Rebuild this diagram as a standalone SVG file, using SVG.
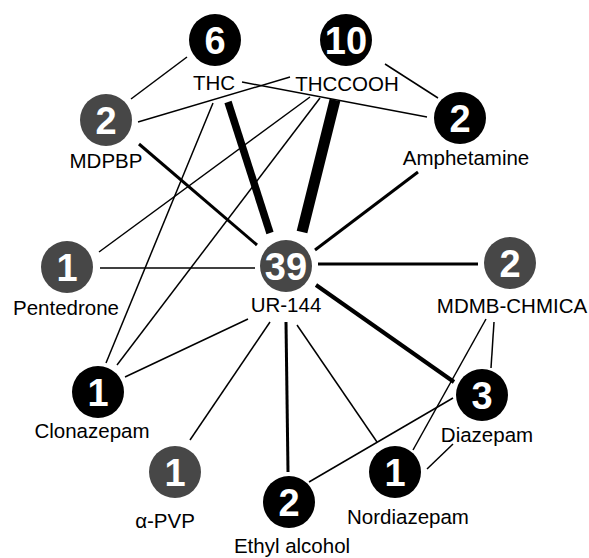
<svg xmlns="http://www.w3.org/2000/svg" width="589" height="558" viewBox="0 0 589 558">
<style>
.bg{fill:#fff}
.e1{stroke:#000;stroke-width:1.5;fill:none}
.e2{stroke:#000;stroke-width:3;fill:none}
.e3{stroke:#000;stroke-width:4;fill:none}
.blk{fill:#000}
.gry{fill:#474747}
.num{font-family:"Liberation Sans",Arial,sans-serif;font-weight:bold;font-size:38px;fill:#fff;text-anchor:middle}
.lbl{font-family:"Liberation Sans",Arial,sans-serif;font-size:20.5px;fill:#000;text-anchor:middle}
</style>
<rect class="bg" x="0" y="0" width="589" height="558"/>
<g id="connectors">
<line class="e1" x1="187" y1="57" x2="131" y2="99"/>
<line class="e1" x1="138" y1="122" x2="290" y2="77"/>
<line class="e1" x1="242" y1="82" x2="427" y2="117"/>
<line class="e1" x1="385" y1="64" x2="438" y2="98"/>
<line stroke="#000" stroke-width="7.5" x1="228" y1="102" x2="270" y2="233"/>
<line stroke="#000" stroke-width="11" x1="335" y1="100" x2="302" y2="232"/>
<line class="e2" x1="418" y1="172" x2="315" y2="250"/>
<line class="e2" x1="139" y1="144" x2="257" y2="245"/>
<line class="e1" x1="100" y1="268" x2="255" y2="268"/>
<line class="e2" x1="318" y1="264" x2="478" y2="264"/>
<line class="e3" x1="316" y1="285" x2="454" y2="382"/>
<line class="e1" x1="310" y1="97" x2="99" y2="252"/>
<line class="e1" x1="213" y1="103" x2="106" y2="363"/>
<line class="e1" x1="320" y1="98" x2="117" y2="365"/>
<line class="e1" x1="125" y1="377" x2="248" y2="319"/>
<line class="e1" x1="270" y1="322" x2="190" y2="440"/>
<line class="e2" x1="286" y1="322" x2="288" y2="472"/>
<line class="e1" x1="297" y1="325" x2="377" y2="442"/>
<line class="e1" x1="309" y1="482" x2="453" y2="398"/>
<line class="e1" x1="413" y1="450" x2="486" y2="319"/>
<line class="e1" x1="494" y1="322" x2="491" y2="368"/>
<line class="e1" x1="427" y1="469" x2="453" y2="444"/>
</g>
<g id="THC"><circle class="blk" cx="215" cy="40" r="26"/><text class="num" x="215" y="54">6</text><text class="lbl" x="214" y="90">THC</text></g>
<g id="THCCOOH"><circle class="blk" cx="346" cy="40" r="26"/><text class="num" x="346" y="54">10</text><text class="lbl" x="347" y="91">THCCOOH</text></g>
<g id="MDPBP"><circle class="gry" cx="106" cy="120" r="26"/><text class="num" x="106" y="134">2</text><text class="lbl" x="106" y="168">MDPBP</text></g>
<g id="Amphetamine"><circle class="blk" cx="460" cy="118" r="26"/><text class="num" x="460" y="132">2</text><text class="lbl" x="466" y="165">Amphetamine</text></g>
<g id="Pentedrone"><circle class="gry" cx="67" cy="267" r="26"/><text class="num" x="67" y="281">1</text><text class="lbl" x="66" y="315">Pentedrone</text></g>
<g id="UR-144"><circle class="gry" cx="286" cy="266" r="26"/><text class="num" x="286" y="280">39</text><text class="lbl" x="286" y="312">UR-144</text></g>
<g id="MDMB-CHMICA"><circle class="gry" cx="510" cy="263" r="26"/><text class="num" x="510" y="277">2</text><text class="lbl" x="512" y="313">MDMB-CHMICA</text></g>
<g id="Clonazepam"><circle class="blk" cx="98" cy="392" r="26"/><text class="num" x="98" y="406">1</text><text class="lbl" x="92" y="438">Clonazepam</text></g>
<g id="aPVP"><circle class="gry" cx="175" cy="472" r="26"/><text class="num" x="175" y="486">1</text><text class="lbl" x="165" y="528">α-PVP</text></g>
<g id="Ethyl_alcohol"><circle class="blk" cx="289" cy="502" r="26"/><text class="num" x="289" y="516">2</text><text class="lbl" x="292" y="553">Ethyl alcohol</text></g>
<g id="Nordiazepam"><circle class="blk" cx="395" cy="472" r="26"/><text class="num" x="395" y="486">1</text><text class="lbl" x="408" y="524">Nordiazepam</text></g>
<g id="Diazepam"><circle class="blk" cx="482" cy="395" r="26"/><text class="num" x="482" y="409">3</text><text class="lbl" x="487" y="442">Diazepam</text></g>
</svg>
